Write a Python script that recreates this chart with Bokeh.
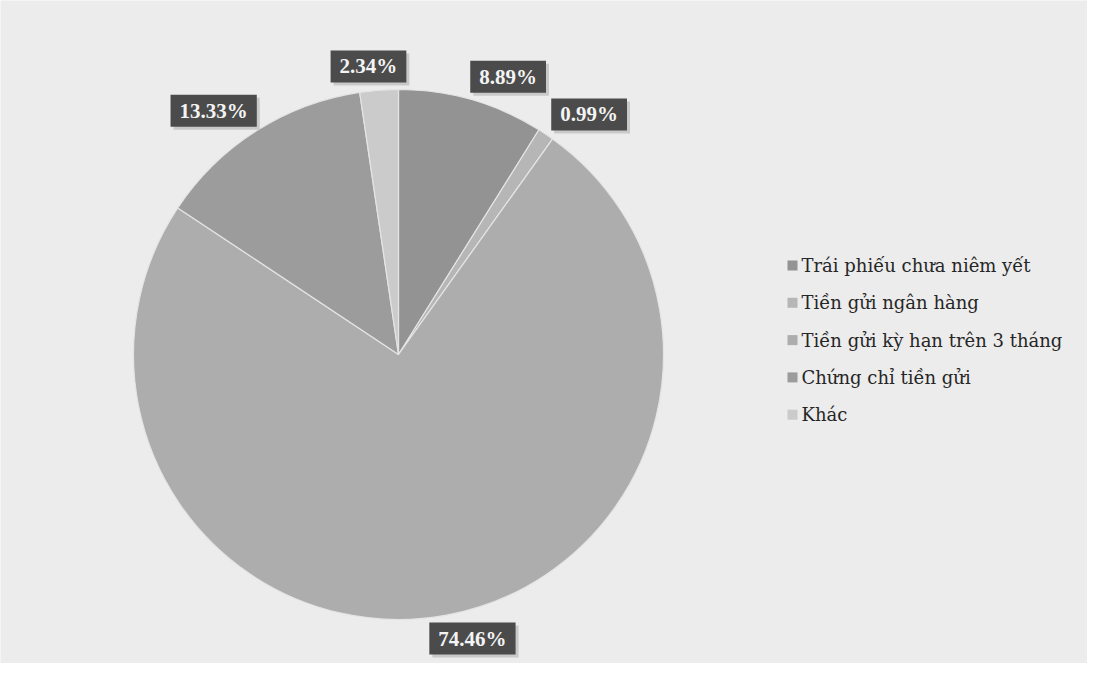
import math
from bokeh.plotting import figure
from bokeh.models import Range1d, ColumnDataSource
from bokeh.core.properties import value
from bokeh.embed import file_html
from bokeh.resources import INLINE

categories = ["Trái phiếu chưa niêm yết", "Tiền gửi ngân hàng",
              "Tiền gửi kỳ hạn trên 3 tháng", "Chứng chỉ tiền gửi", "Khác"]
shares = [8.89, 0.99, 74.46, 13.33, 2.34]
labels = ["8.89%", "0.99%", "74.46%", "13.33%", "2.34%"]
colors = ["#939393", "#b6b6b6", "#adadad", "#9c9c9c", "#cbcbcb"]

W, H = 1087, 663
p = figure(width=W, height=H, output_backend="svg", toolbar_location=None,
           x_range=Range1d(0, W), y_range=Range1d(679 - H, 679),
           min_border=0, background_fill_color="#ececec", border_fill_color="#ececec")
p.axis.visible = False
p.grid.visible = False
p.outline_line_color = None

cx, cy, R = 398, 679 - 354, 265
total = sum(shares)
starts, ends, mids = [], [], []
acc = 0.0
for s in shares:
    a0 = acc / total
    acc += s
    a1 = acc / total
    starts.append(math.pi / 2 - a0 * 2 * math.pi)
    ends.append(math.pi / 2 - a1 * 2 * math.pi)
    mids.append((a0 + a1) / 2 * 2 * math.pi)

src = ColumnDataSource(dict(start=starts, end=ends, color=colors))
p.wedge(x=cx, y=cy, radius=R, start_angle="start", end_angle="end",
        direction="clock", fill_color="color", line_color="#e4e4e4", line_width=1.2, source=src)

fs = 21
def text_w(t):
    w = 0
    for ch in t:
        w += fs * (1.0 if ch == "%" else 0.25 if ch == "." else 0.5)
    return w

lx, ly, bw = [], [], []
for m, t in zip(mids, labels):
    sx, cy_ = math.sin(m), math.cos(m)
    shift = math.copysign(30 * min(1.0, abs(sx) * 4), sx)
    lx.append(cx + 1.09 * R * sx + shift)
    ly.append(cy + 1.09 * R * cy_)
    bw.append(text_w(t) + 18)
# shadow + box
p.rect(x=[x + 3 for x in lx], y=[y - 3 for y in ly], width=bw, height=32,
       fill_color="#a0a0a0", fill_alpha=0.45, line_color=None)
p.rect(x=lx, y=ly, width=bw, height=32, fill_color="#4b4b4b", line_color=None)
p.text(x=lx, y=ly, text=labels, text_align="center", text_baseline="middle",
       text_color="#f4f4f4", text_font=value("Liberation Serif"),
       text_font_style="bold", text_font_size=f"{fs}px")

leg_y = [679 - (265 + 37.3 * i) for i in range(len(categories))]
p.rect(x=[792] * len(categories), y=leg_y, width=10, height=10, fill_color=colors, line_color=None)
p.text(x=[801] * len(categories), y=leg_y, text=categories, text_baseline="middle",
       text_font=value("DejaVu Serif"), text_font_size="18px", text_color="#262626")

open("out.html", "w").write(file_html(p, INLINE))
